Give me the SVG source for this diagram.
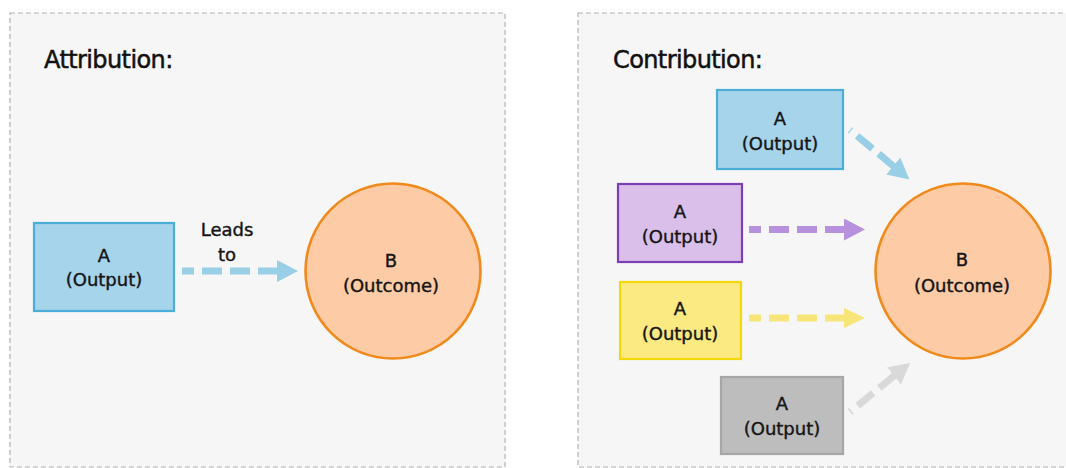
<svg xmlns="http://www.w3.org/2000/svg" width="1066" height="468" viewBox="0 0 1066 468">
<style>
.panel{fill:#f6f6f6;stroke:#b3b3b3;stroke-width:1.2;stroke-dasharray:5 3}
.title{font-family:"DejaVu Sans","Liberation Sans",sans-serif;font-size:24px;fill:#111;stroke:#111;stroke-width:0.5;letter-spacing:-0.6px}
.lbl{font-family:"DejaVu Sans","Liberation Sans",sans-serif;font-size:18px;fill:#151515;stroke:#151515;stroke-width:0.4;text-anchor:middle}
.box{stroke-width:2.2}
.conn{fill:none;stroke-width:7;stroke-dasharray:20 8}
</style>
<defs>
<marker id="hBlue" viewBox="0 -11 21 22" markerWidth="21" markerHeight="22" refX="1" refY="0" markerUnits="userSpaceOnUse" orient="auto-start-reverse"><path d="M0,-11 L21,0 L0,11 z" fill="#98cfe7"/></marker>
<marker id="hPurple" viewBox="0 -11 21 22" markerWidth="21" markerHeight="22" refX="1" refY="0" markerUnits="userSpaceOnUse" orient="auto-start-reverse"><path d="M0,-11 L21,0 L0,11 z" fill="#b791de"/></marker>
<marker id="hYellow" viewBox="0 -11 21 22" markerWidth="21" markerHeight="22" refX="1" refY="0" markerUnits="userSpaceOnUse" orient="auto-start-reverse"><path d="M0,-10 L21,0 L0,10 z" fill="#f8e57a"/></marker>
<marker id="hGray" viewBox="0 -11 21 22" markerWidth="21" markerHeight="22" refX="1" refY="0" markerUnits="userSpaceOnUse" orient="auto-start-reverse"><path d="M0,-11 L21,0 L0,11 z" fill="#d9d9d9"/></marker>
</defs>

<g id="panel-attribution">
<rect class="panel" x="10" y="13" width="495" height="454"/>
<text class="title" x="44" y="68">Attribution:</text>
</g>
<g id="panel-contribution">
<rect class="panel" x="578" y="13" width="500" height="454"/>
<text class="title" x="613" y="68">Contribution:</text>
</g>

<g id="connectors">
<line class="conn" x1="278" y1="271" x2="182" y2="271" stroke="#98cfe7" marker-start="url(#hBlue)"/>
<text class="lbl" x="227" y="236">Leads</text>
<text class="lbl" x="227" y="261">to</text>
<line class="conn" x1="894" y1="166.6" x2="850" y2="130" stroke="#98cfe7" marker-start="url(#hBlue)"/>
<line class="conn" x1="845" y1="229.5" x2="749" y2="229.5" stroke="#b791de" marker-start="url(#hPurple)"/>
<line class="conn" x1="845" y1="318" x2="749" y2="318" stroke="#f8e57a" marker-start="url(#hYellow)"/>
<line class="conn" x1="894.8" y1="375.3" x2="850" y2="412" stroke="#d9d9d9" marker-start="url(#hGray)"/>
</g>

<g id="node-a-left">
<rect class="box" x="34" y="223" width="140" height="88" fill="#a6d4ea" stroke="#4aaed8"/>
<text class="lbl" x="104" y="262">A</text>
<text class="lbl" x="104" y="286">(Output)</text>
</g>
<g id="node-b-left">
<circle cx="393" cy="271" r="87.5" fill="#fdcba5" stroke="#f08a1c" stroke-width="2.6"/>
<text class="lbl" x="391" y="267">B</text>
<text class="lbl" x="391" y="292">(Outcome)</text>
</g>

<g id="node-a-blue">
<rect class="box" x="717" y="90" width="126" height="79" fill="#a6d4ea" stroke="#4aaed8"/>
<text class="lbl" x="780" y="125">A</text>
<text class="lbl" x="780" y="150">(Output)</text>
</g>
<g id="node-a-purple">
<rect class="box" x="618" y="184" width="124" height="78" fill="#d9bfe9" stroke="#7e3fb6"/>
<text class="lbl" x="680" y="218">A</text>
<text class="lbl" x="680" y="243">(Output)</text>
</g>
<g id="node-a-yellow">
<rect class="box" x="620" y="282" width="121" height="77" fill="#fbe981" stroke="#f5d80c"/>
<text class="lbl" x="680" y="315">A</text>
<text class="lbl" x="680" y="340">(Output)</text>
</g>
<g id="node-a-gray">
<rect class="box" x="721" y="377" width="122" height="77" fill="#bdbdbd" stroke="#a6a6a6"/>
<text class="lbl" x="782" y="410">A</text>
<text class="lbl" x="782" y="435">(Output)</text>
</g>
<g id="node-b-right">
<circle cx="963" cy="271" r="87.5" fill="#fdcba5" stroke="#f08a1c" stroke-width="2.6"/>
<text class="lbl" x="962" y="266">B</text>
<text class="lbl" x="962" y="292">(Outcome)</text>
</g>
</svg>
